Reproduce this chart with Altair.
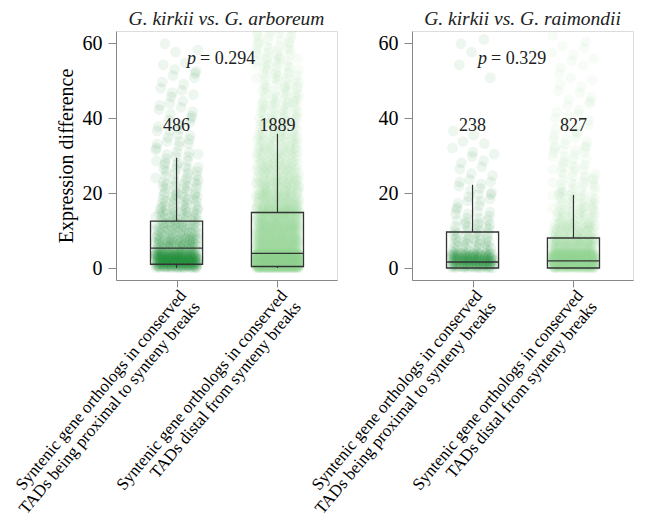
import altair as alt
import pandas as pd

# ---------------- data ----------------
panel_titles = ["G. kirkii vs. G. arboreum", "G. kirkii vs. G. raimondii"]
groups = ["proximal", "distal"]
x_label_lines = [
    ["Syntenic gene orthologs in conserved", "TADs being proximal to synteny breaks"],
    ["Syntenic gene orthologs in conserved", "TADs distal from synteny breaks"],
]
n_labels = [["486", "1889"], ["238", "827"]]
p_values = ["0.294", "0.329"]

# box statistics per panel, per group (proximal, distal)
q1 = [[1.0, 0.4], [0.0, 0.0]]
median = [[5.3, 3.9], [1.6, 1.9]]
q3 = [[12.5, 14.8], [9.6, 8.0]]
whisker_hi = [[29.4, 35.8], [22.2, 19.5]]
whisker_lo = [[0.0, 0.0], [0.0, 0.0]]

# estimated point counts per 4-unit bin of expression difference (0-4, 4-8, ..., 60-64)
bin_lo = [0, 4, 8, 12, 16, 20, 24, 28, 32, 36, 40, 44, 48, 52, 56, 60]
counts_arboreum_prox = [210, 75, 50, 35, 25, 20, 15, 12, 10, 8, 7, 6, 5, 4, 3, 0]
counts_arboreum_dist = [940, 190, 165, 140, 90, 70, 55, 45, 38, 30, 25, 22, 20, 18, 16, 14]
counts_raimondii_prox = [140, 30, 20, 12, 9, 8, 4, 5, 4, 1, 0, 0, 1, 1, 2, 1]
counts_raimondii_dist = [500, 120, 60, 35, 25, 18, 14, 12, 9, 8, 6, 5, 5, 4, 4, 2]
bin_counts = [[counts_arboreum_prox, counts_arboreum_dist],
              [counts_raimondii_prox, counts_raimondii_dist]]

# ---------------- tables ----------------
A1, A2 = 0.7548776662, 0.5698402910   # low-discrepancy spread inside each bin
rows = []
for p in range(2):
    for g in range(2):
        for b, lo in enumerate(bin_lo):
            c = bin_counts[p][g][b]
            for k in range(c):
                jx = ((0.5 + (k + 7 * b + 3 * g) * A1) % 1.0) - 0.5
                fy = (0.5 + (k + 5 * b + 11 * g) * A2) % 1.0
                rows.append({"panel": p, "grp": groups[g], "i": g,
                             "y": lo + 4 * fy, "xpos": g + jx * 0.43})
pts = pd.DataFrame(rows)

stats = pd.DataFrame([
    {"panel": p, "i": g, "grp": groups[g], "q1": q1[p][g], "med": median[p][g],
     "q3": q3[p][g], "hi": whisker_hi[p][g], "lo": whisker_lo[p][g], "n": n_labels[p][g]}
    for p in range(2) for g in range(2)
])

SERIF = "Liberation Serif"
DARK = "#1f8a38"
LIGHT = "#98d89b"
LINE = "#333333"

yscale = alt.Scale(domain=[-3.2, 63.2], nice=False, zero=False)
xscale = alt.Scale(domain=[-0.6, 1.59], nice=False, zero=False)

label_expr = ("datum.value == 0 ? ['%s', '%s'] : ['%s', '%s']" %
              (x_label_lines[0][0], x_label_lines[0][1], x_label_lines[1][0], x_label_lines[1][1]))


def panel(p):
    xaxis = alt.Axis(values=[0, 1], labelExpr=label_expr, labelAngle=310, labelAlign="right",
                     labelBaseline="top", labelFontSize=17, labelFont=SERIF, labelLineHeight=18,
                     title=None, grid=False, tickSize=7, labelPadding=0, labelOverlap=False,
                     labelLimit=1000)
    yaxis = alt.Axis(values=[0, 20, 40, 60], grid=False, tickSize=8, labelFontSize=20,
                     labelFont=SERIF, labelPadding=6,
                     title="Expression difference" if p == 0 else None,
                     titleFont=SERIF, titleFontSize=20, titleFontWeight="normal", titlePadding=6)
    base_pts = pts[pts.panel == p]
    base_st = stats[stats.panel == p]
    points = alt.Chart(base_pts).mark_circle(size=115, opacity=0.08, clip=True).encode(
        x=alt.X("xpos:Q", scale=xscale, axis=xaxis),
        y=alt.Y("y:Q", scale=yscale, axis=yaxis),
        color=alt.Color("grp:N", scale=alt.Scale(domain=groups, range=[DARK, LIGHT]), legend=None),
    )
    st = alt.Chart(base_st).transform_calculate(xa="datum.i - 0.258", xb="datum.i + 0.258")
    box = st.mark_rect(fillOpacity=0, stroke=LINE, strokeWidth=1.3).encode(
        x="xa:Q", x2="xb:Q", y="q1:Q", y2="q3:Q")
    med = st.mark_rule(color=LINE, strokeWidth=1.3).encode(
        x="xa:Q", x2="xb:Q", y="med:Q")
    wh_hi = st.mark_rule(color=LINE, strokeWidth=1.2).encode(x="i:Q", y="q3:Q", y2="hi:Q")
    wh_lo = st.mark_rule(color=LINE, strokeWidth=1.2).encode(x="i:Q", y="lo:Q", y2="q1:Q")
    ntext = st.mark_text(font=SERIF, fontSize=18, color="#222", baseline="middle").encode(
        x="i:Q", y=alt.value(95), text="n:N")
    pdf = pd.DataFrame({"pv": ["= " + p_values[p]]})
    px = 80 if p == 0 else 75
    ptxt_p = alt.Chart(pdf).mark_text(font=SERIF, fontSize=18, fontStyle="italic", color="#222",
                                      align="right", baseline="middle", text="p").encode(
        x=alt.value(px), y=alt.value(28))
    ptxt_v = alt.Chart(pdf).mark_text(font=SERIF, fontSize=18, color="#222",
                                      align="left", baseline="middle").encode(
        x=alt.value(px + 4), y=alt.value(28), text="pv:N")
    return alt.layer(points, box, med, wh_hi, wh_lo, ntext, ptxt_p, ptxt_v).properties(
        width=221, height=249,
        title=alt.TitleParams(panel_titles[p], font=SERIF, fontStyle="italic", fontSize=19.5,
                              fontWeight="normal", offset=2, anchor="middle", color="#222"))


chart = alt.hconcat(panel(0), panel(1), spacing=75, bounds="flush").properties(
    padding={"left": -7, "top": 0, "right": 0, "bottom": 0}
).configure_view(stroke="#444", strokeWidth=1.2).configure_axis(
    domainColor="#444", tickColor="#444", labelColor="#222", titleColor="#222",
    domainWidth=1.2, tickWidth=1.2
).configure(background="white")

chart.save("out.html", embed_options={"renderer": "svg", "actions": False})
